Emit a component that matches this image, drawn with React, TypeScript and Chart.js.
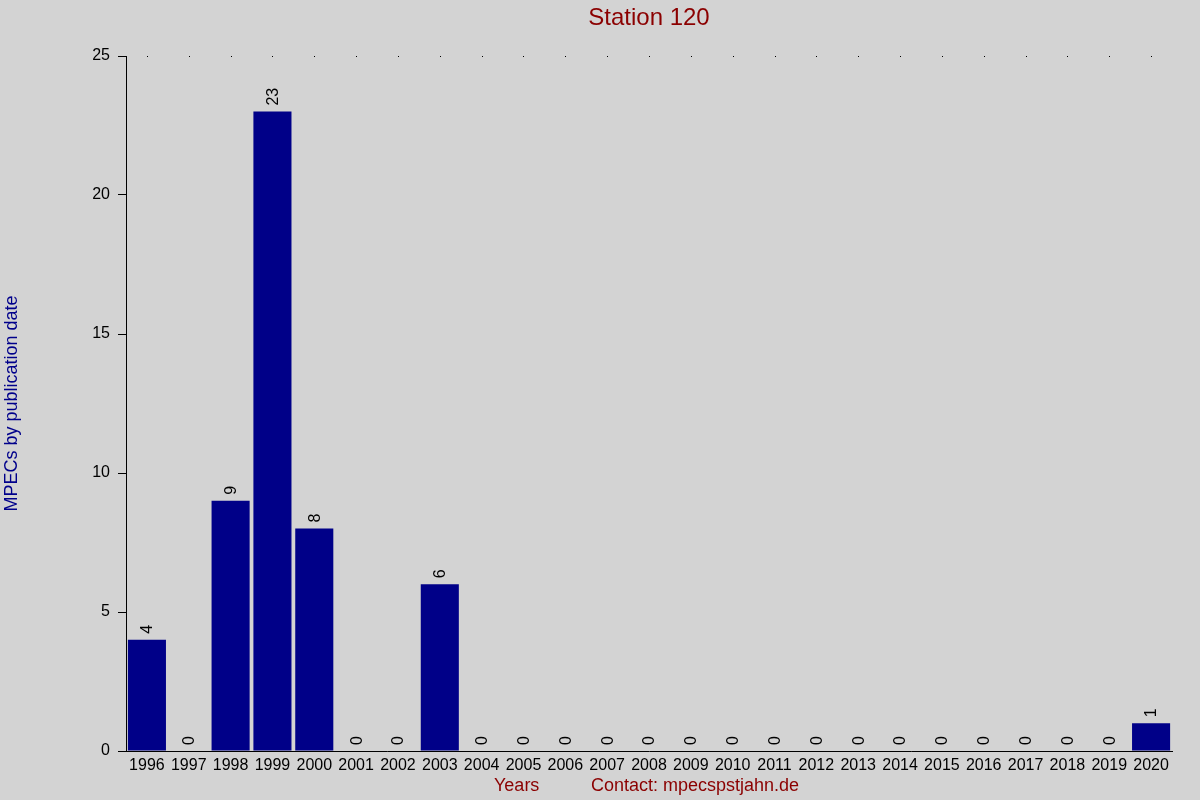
import { useEffect, useRef } from 'react';
import { Chart, registerables, type ChartConfiguration, type Plugin } from 'chart.js';

Chart.register(...registerables);

// ── Data ──────────────────────────────────────────────────────────────────────

const YEARS = [
  '1996', '1997', '1998', '1999', '2000', '2001', '2002', '2003', '2004', '2005',
  '2006', '2007', '2008', '2009', '2010', '2011', '2012', '2013', '2014', '2015',
  '2016', '2017', '2018', '2019', '2020',
];
const MPECS = [4, 0, 9, 23, 8, 0, 0, 6, 0, 0, 0, 0, 0, 0, 0, 0, 0, 0, 0, 0, 0, 0, 0, 0, 1];

const TITLE = 'Station 120';
const Y_TITLE = 'MPECs by publication date';
const X_TITLE = 'Years';
const CONTACT = 'Contact: mpecspstjahn.de';

// ── Tokens ────────────────────────────────────────────────────────────────────

const C = {
  bg:    '#d3d3d3',
  bar:   '#000088',
  red:   '#8b0000',
  navy:  '#00008b',
  text:  '#000000',
} as const;

const FONT = '"Liberation Sans", Arial, sans-serif';

// ── Extras drawn on the canvas ────────────────────────────────────────────────

const decor: Plugin<'bar'> = {
  id: 'decor',
  beforeDraw(chart) {
    const { ctx, width, height } = chart;
    ctx.save();
    ctx.fillStyle = C.bg;
    ctx.fillRect(0, 0, width, height);
    ctx.restore();
  },
  afterDraw(chart) {
    const { ctx, chartArea } = chart;
    const x = chart.scales.x;
    const y = chart.scales.y;
    const mid = (chartArea.left + chartArea.right) / 2;
    ctx.save();

    // dotted row at the top value
    ctx.fillStyle = C.text;
    const top = y.getPixelForValue(25);
    YEARS.forEach((_, i) => {
      ctx.fillRect(Math.round(x.getPixelForValue(i)), Math.round(top), 1, 1);
    });

    // values above bars, rotated
    ctx.font = `16px ${FONT}`;
    ctx.fillStyle = C.text;
    ctx.textAlign = 'left';
    ctx.textBaseline = 'middle';
    const meta = chart.getDatasetMeta(0);
    meta.data.forEach((el, i) => {
      ctx.save();
      ctx.translate(el.x + 1, el.y - 6);
      ctx.rotate(-Math.PI / 2);
      ctx.fillText(String(MPECS[i]), 0, 0);
      ctx.restore();
    });

    // title
    ctx.font = `24px ${FONT}`;
    ctx.fillStyle = C.red;
    ctx.textAlign = 'center';
    ctx.textBaseline = 'middle';
    ctx.fillText(TITLE, mid, 18);

    // y title
    ctx.save();
    ctx.font = `18px ${FONT}`;
    ctx.fillStyle = C.navy;
    ctx.translate(12, (chartArea.top + chartArea.bottom) / 2);
    ctx.rotate(-Math.PI / 2);
    ctx.fillText(Y_TITLE, 0, 0);
    ctx.restore();

    // x title + contact
    ctx.font = `18px ${FONT}`;
    ctx.fillStyle = C.red;
    ctx.textAlign = 'left';
    ctx.fillText(X_TITLE, mid - 155, 786);
    ctx.fillText(CONTACT, mid - 58, 786);

    ctx.restore();
  },
};

// ── Chart ─────────────────────────────────────────────────────────────────────

export default function App() {
  const canvasRef = useRef<HTMLCanvasElement>(null);

  useEffect(() => {
    document.body.style.margin = '0';
    const canvas = canvasRef.current;
    if (!canvas) return;

    const config: ChartConfiguration<'bar'> = {
      type: 'bar',
      data: {
        labels: YEARS,
        datasets: [{
          data: MPECS,
          backgroundColor: C.bar,
          borderWidth: 0,
          barPercentage: 0.91,
          categoryPercentage: 1,
        }],
      },
      options: {
        responsive: false,
        animation: false,
        devicePixelRatio: 1,
        layout: { padding: { left: 0, top: 56, right: 28, bottom: 0 } },
        plugins: {
          legend: { display: false },
          tooltip: { enabled: false },
        },
        scales: {
          x: {
            grid: { display: false, drawTicks: false },
            border: { display: true, color: C.text, width: 1 },
            ticks: {
              color: C.text,
              font: { family: FONT, size: 16 },
              maxRotation: 0,
              autoSkip: false,
              padding: 5,
            },
            afterFit: (s) => { s.height = 49; },
          },
          y: {
            min: 0,
            max: 25,
            grid: { drawOnChartArea: false, tickLength: 8, color: C.text },
            border: { display: true, color: C.text, width: 1 },
            ticks: {
              stepSize: 5,
              color: C.text,
              font: { family: FONT, size: 16 },
              padding: 8,
            },
            afterFit: (s) => { s.width = 126; },
          },
        },
      },
      plugins: [decor],
    };

    const chart = new Chart(canvas, config);
    return () => { chart.destroy(); };
  }, []);

  return (
    <div style={{ width: 1200, height: 800, background: C.bg }}>
      <canvas ref={canvasRef} width={1200} height={800} />
    </div>
  );
}
